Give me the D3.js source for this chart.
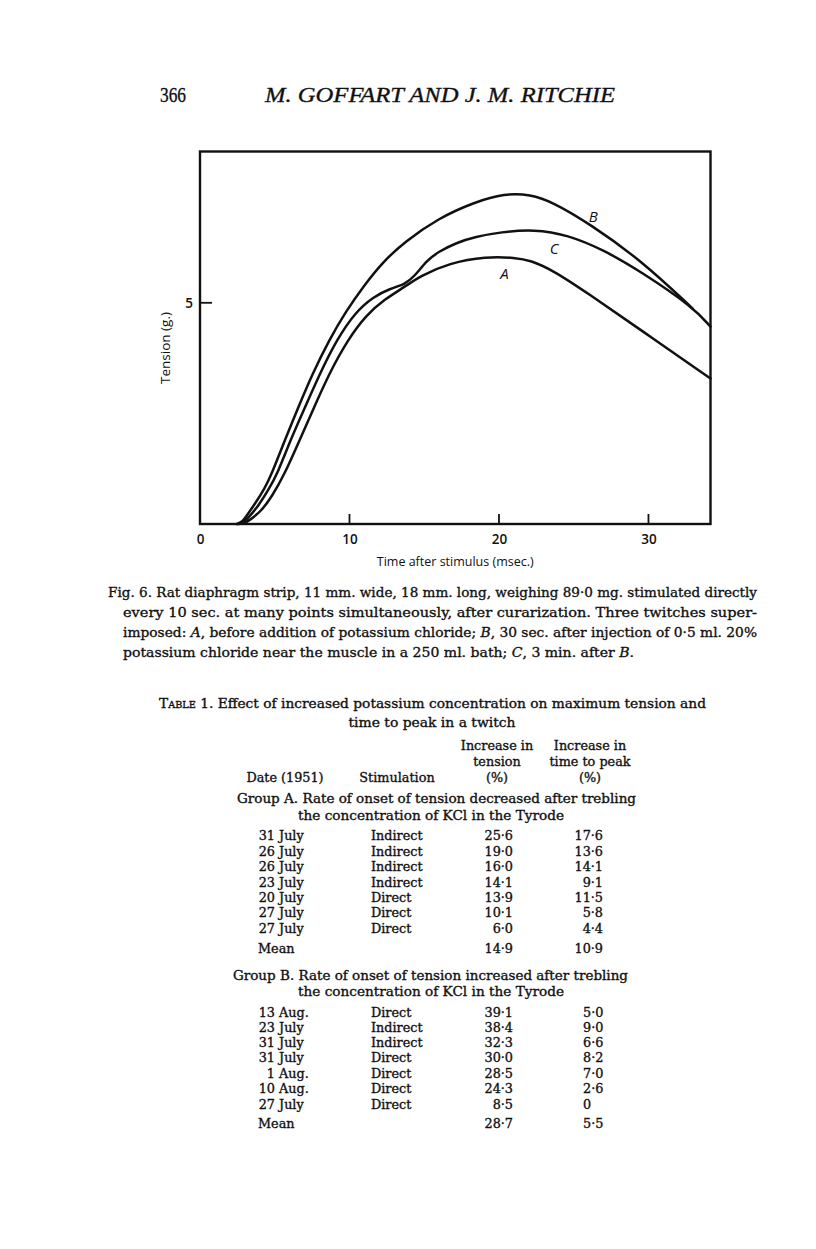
<!DOCTYPE html>
<html><head><meta charset="utf-8">
<script src="https://cdn.jsdelivr.net/npm/d3@7"></script>
<style>
body{margin:0;background:#fff;}
svg text{fill:#111;}
svg text.heavy{stroke:#111;stroke-width:0.35px;}
</style></head>
<body>
<svg id="page" width="816" height="1249"></svg>
<script>
// ---------- DATA ----------
const xTicks = [0, 10, 20, 30];
const yTicks = [5];
const xLabel = "Time after stimulus (msec.)";
const yLabel = "Tension (g.)";
// [time msec, tension g]
const curveA = [[2.6,0],[3.0,0.02],[3.33,0.09],[4.07,0.28],[4.81,0.62],[5.68,1.14],[6.67,1.90],[7.65,2.65],[8.64,3.40],[9.88,4.16],[11.11,4.72],[12.35,5.08],[13.70,5.36],[14.69,5.60],[16.67,5.90],[19.14,6.05],[21.11,6.02],[22.10,5.96],[23.58,5.74],[25.80,5.25],[29.51,4.38],[34.15,3.29]];
const curveB = [[2.45,0],[2.8,0.04],[3.09,0.17],[3.70,0.47],[4.32,0.80],[4.81,1.14],[5.68,1.90],[6.59,2.65],[7.53,3.40],[8.64,4.16],[9.75,4.80],[10.99,5.40],[12.22,5.92],[13.70,6.38],[15.93,6.91],[18.40,7.28],[20.37,7.47],[22.10,7.45],[23.58,7.28],[26.05,6.79],[29.51,5.96],[32.96,4.87]];
const curveC = [[2.5,0],[2.9,0.03],[3.21,0.13],[3.95,0.43],[4.57,0.77],[5.19,1.14],[6.05,1.90],[7.04,2.65],[8.02,3.40],[9.14,4.16],[10.37,4.78],[11.6,5.14],[12.72,5.32],[13.70,5.42],[14.30,5.58],[15.19,5.96],[15.93,6.15],[17.16,6.36],[18.40,6.49],[20.12,6.60],[22.35,6.66],[24.57,6.54],[27.04,6.19],[29.51,5.70],[32.96,4.91],[34.15,4.46]];
const curveNames = ["A","B","C"];
const curveLabelPos = [[20.37,5.68],[26.3,6.96],[23.7,6.25]];

const headerPage = "366";
const headerTitle = "M. GOFFART AND J. M. RITCHIE";

const captionLines = [
  "Fig. 6.  Rat diaphragm strip, 11 mm. wide, 18 mm. long, weighing 89·0 mg. stimulated directly",
  "every 10 sec. at many points simultaneously, after curarization. Three twitches super-",
  "imposed: A, before addition of potassium chloride; B, 30 sec. after injection of 0·5 ml. 20%",
  "potassium chloride near the muscle in a 250 ml. bath; C, 3 min. after B."
];

const tableTitle1 = "Effect of increased potassium concentration on maximum tension and";
const tableTitle2 = "time to peak in a twitch";
const colHeaders = ["Date (1951)", "Stimulation", "Increase in|tension|(%)", "Increase in|time to peak|(%)"];

const groupATitle = ["Group A.  Rate of onset of tension decreased after trebling", "the concentration of KCl in the Tyrode"];
const groupADay = ["31","26","26","23","20","27","27"];
const groupAMonth = ["July","July","July","July","July","July","July"];
const groupAStim = ["Indirect","Indirect","Indirect","Indirect","Direct","Direct","Direct"];
const groupATension = ["25·6","19·0","16·0","14·1","13·9","10·1","6·0"];
const groupATime = ["17·6","13·6","14·1","9·1","11·5","5·8","4·4"];
const groupAMean = ["14·9","10·9"];

const groupBTitle = ["Group B.  Rate of onset of tension increased after trebling", "the concentration of KCl in the Tyrode"];
const groupBDay = ["13","23","31","31","1","10","27"];
const groupBMonth = ["Aug.","July","July","July","Aug.","Aug.","July"];
const groupBStim = ["Direct","Indirect","Indirect","Direct","Direct","Direct","Direct"];
const groupBTension = ["39·1","38·4","32·3","30·0","28·5","24·3","8·5"];
const groupBTime = ["5·0","9·0","6·6","8·2","7·0","2·6","0"];
const groupBMean = ["28·7","5·5"];

// ---------- DRAW ----------
const svg = d3.select("#page");
const serif = "'DejaVu Serif', serif";
const hserif = "'Liberation Serif', serif";
const sans = "'Open Sans', 'Noto Sans', sans-serif";

// header
svg.append("text").attr("class","heavy").attr("x",160).attr("y",102).attr("font-family",hserif).attr("font-size",21)
  .attr("textLength",26).attr("lengthAdjust","spacingAndGlyphs").text(headerPage);
svg.append("text").attr("class","heavy").attr("x",265).attr("y",102).attr("font-family",hserif).attr("font-size",22)
  .attr("font-style","italic").attr("textLength",350).attr("lengthAdjust","spacingAndGlyphs").text(headerTitle);

// chart
const x = d3.scaleLinear().domain([0, 34.15]).range([200, 710.5]);
const y = d3.scaleLinear().domain([0, 8.42]).range([524, 151.5]);

const g = svg.append("g");
g.append("rect").attr("x",x(0)).attr("y",y(8.42)).attr("width",x(34.15)-x(0)).attr("height",y(0)-y(8.42))
  .attr("fill","none").attr("stroke","#111").attr("stroke-width",2.4);

const xAxis = d3.axisBottom(x).tickValues(xTicks).tickSize(0).tickPadding(10);
const xa = g.append("g").attr("transform",`translate(0,${y(0)})`).call(xAxis);
xa.select(".domain").remove();
xa.selectAll("text").attr("font-family",sans).attr("font-size",13.5).attr("font-weight",600).attr("fill","#111");
g.selectAll(".xtick").data(xTicks.filter(d=>d>0)).enter().append("line")
  .attr("x1",d=>x(d)).attr("x2",d=>x(d)).attr("y1",y(0)).attr("y2",y(0)-10)
  .attr("stroke","#111").attr("stroke-width",1.8);

const yAxis = d3.axisLeft(y).tickValues(yTicks).tickSize(0).tickPadding(7);
const ya = g.append("g").attr("transform",`translate(${x(0)},0)`).call(yAxis);
ya.select(".domain").remove();
ya.selectAll("text").attr("font-family",sans).attr("font-size",13.5).attr("font-weight",600).attr("fill","#111");
g.selectAll(".ytick").data(yTicks).enter().append("line")
  .attr("x1",x(0)).attr("x2",x(0)+12).attr("y1",d=>y(d)).attr("y2",d=>y(d))
  .attr("stroke","#111").attr("stroke-width",1.8);

g.append("text").attr("x",(x(0)+x(34.15))/2).attr("y",566).attr("text-anchor","middle")
  .attr("font-family",sans).attr("font-size",12.5).text(xLabel);
g.append("text").attr("transform","translate(170,348) rotate(-90)").attr("text-anchor","middle")
  .attr("font-family",sans).attr("font-size",13.5).text(yLabel);

const line = d3.line().x(d=>x(d[0])).y(d=>y(d[1])).curve(d3.curveBasis);
[curveA, curveB, curveC].forEach(c=>{
  g.append("path").attr("d",line(c)).attr("fill","none").attr("stroke","#111")
   .attr("stroke-width",2.5).attr("stroke-linecap","round");
});
curveNames.forEach((n,i)=>{
  g.append("text").attr("x",x(curveLabelPos[i][0])).attr("y",y(curveLabelPos[i][1])+6)
   .attr("text-anchor","middle").attr("font-family",sans).attr("font-style","italic")
   .attr("font-size",15).text(n);
});

// caption
const capFont = 13.5;
const capX = [108,123,123,123], capW = [649,634,634,511], capY = [597,617,637,657];
captionLines.forEach((t,i)=>{
  const tx = svg.append("text").attr("class","heavy").attr("x",capX[i]).attr("y",capY[i]).attr("font-family",serif)
    .attr("font-size",capFont).attr("textLength",capW[i]).attr("lengthAdjust","spacingAndGlyphs");
  const parts = t.split(/(\b[ABC]\b)/);
  parts.forEach(p=>{
    const ts = tx.append("tspan").text(p);
    if (/^[ABC]$/.test(p)) ts.attr("font-style","italic");
  });
});

// table
const tF = 12.8;
function txt(xp, yp, s, anchor, len){
  const t = svg.append("text").attr("class","heavy").attr("x",xp).attr("y",yp).attr("font-family",serif)
    .attr("font-size",tF).attr("text-anchor",anchor||"start").text(s);
  if (len) t.attr("textLength",len).attr("lengthAdjust","spacingAndGlyphs");
  return t;
}
const tt = svg.append("text").attr("class","heavy").attr("x",159).attr("y",708).attr("font-family",serif).attr("font-size",tF)
  .attr("textLength",547).attr("lengthAdjust","spacingAndGlyphs");
tt.append("tspan").attr("font-variant","small-caps").text("Table 1.");
tt.append("tspan").text("  " + tableTitle1);
txt(432, 727, tableTitle2, "middle", 167);

const hdrX = [285, 397, 497, 590];
const hdrRows = [750, 766, 782];
colHeaders.forEach((h,i)=>{
  const parts = h.split("|");
  const start = hdrRows.length - parts.length;
  parts.forEach((p,j)=> txt(hdrX[i], hdrRows[start+j], p, "middle"));
});

function group(titleLines, titleX, titleY, titleW, days, months, stim, ten, tim, mean, rowY, meanY, timeAnchor){
  txt(titleX, titleY[0], titleLines[0], "start", titleW);
  txt(431, titleY[1], titleLines[1], "middle", 266);
  days.forEach((d,i)=>{
    txt(275, rowY[i], d, "end");
    txt(279, rowY[i], months[i], "start");
    txt(371, rowY[i], stim[i], "start");
    txt(513, rowY[i], ten[i], "end");
    if (timeAnchor==="end") txt(603, rowY[i], tim[i], "end");
    else txt(583, rowY[i], tim[i], "start");
  });
  txt(258, meanY, "Mean", "start");
  txt(513, meanY, mean[0], "end");
  if (timeAnchor==="end") txt(603, meanY, mean[1], "end"); else txt(583, meanY, mean[1], "start");
}
group(groupATitle, 237, [803,820], 399, groupADay, groupAMonth, groupAStim, groupATension, groupATime, groupAMean,
  [840,856,871,887,902,917,933], 953, "end");
group(groupBTitle, 233, [980,996], 395, groupBDay, groupBMonth, groupBStim, groupBTension, groupBTime, groupBMean,
  [1017,1032,1047,1062,1078,1093,1109], 1128, "start");
</script>
</body></html>
